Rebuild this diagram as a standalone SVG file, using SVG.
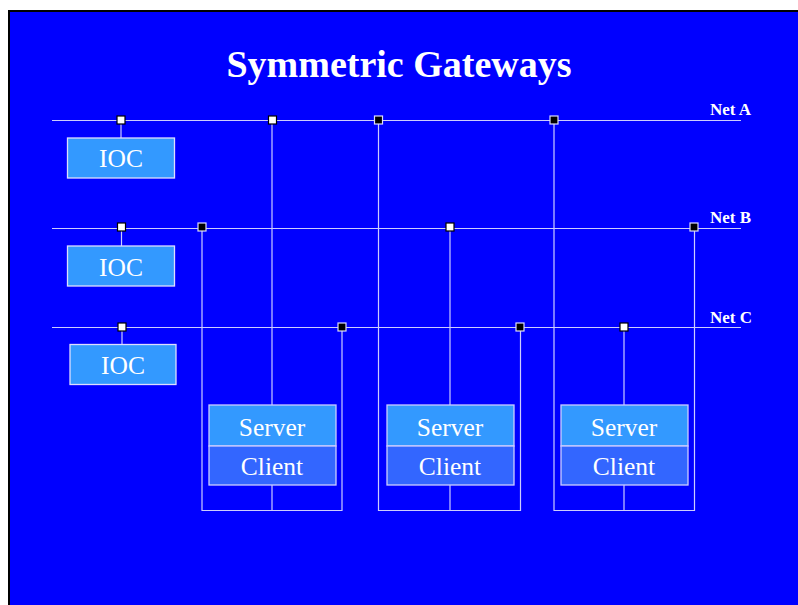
<svg xmlns="http://www.w3.org/2000/svg" width="798" height="605" viewBox="0 0 798 605">
<style>
.bg{fill:#0000FF;stroke:#000;stroke-width:2}
.ln{stroke:#CCCCFF;stroke-width:1.2;fill:none}
.title{font-family:"Liberation Serif","Times New Roman",serif;font-weight:bold;font-size:38px;fill:#fff}
.net{font-family:"Liberation Serif","Times New Roman",serif;font-weight:bold;font-size:17px;fill:#fff}
.lbl{font-family:"Liberation Serif","Times New Roman",serif;font-size:25.5px;fill:#fff;text-anchor:middle}
.ioc{fill:#3399FF;stroke:#DDDDFF;stroke-width:1.3}
.srv{fill:#3399FF;stroke:#CCCCFF;stroke-width:1.3}
.cli{fill:#3366FF;stroke:#CCCCFF;stroke-width:1.3}
.jw{fill:#fff;stroke:#000;stroke-width:1.2}
.jb{fill:#000;stroke:#DDDDFF;stroke-width:1.2}
</style>
<rect class="bg" x="9" y="11" width="800" height="600"/>
<text class="title" x="399" y="77" text-anchor="middle">Symmetric Gateways</text>

<g id="connectors">
  <!-- nets -->
  <line class="ln" x1="52" y1="120.5" x2="741" y2="120.5"/>
  <line class="ln" x1="52" y1="228.5" x2="741" y2="228.5"/>
  <line class="ln" x1="52" y1="327.5" x2="741" y2="327.5"/>
  <!-- IOC drops -->
  <line class="ln" x1="121" y1="120" x2="121" y2="138"/>
  <line class="ln" x1="121.5" y1="228" x2="121.5" y2="246"/>
  <line class="ln" x1="122" y1="327" x2="122" y2="344"/>
  <!-- group 1 -->
  <line class="ln" x1="272" y1="120" x2="272" y2="405"/>
  <polyline class="ln" points="202,228 202,510.5 342,510.5 342,327"/>
  <line class="ln" x1="272" y1="485" x2="272" y2="510"/>
  <!-- group 2 -->
  <line class="ln" x1="450" y1="228" x2="450" y2="405"/>
  <polyline class="ln" points="378.5,120 378.5,510.5 520.5,510.5 520.5,327"/>
  <line class="ln" x1="450" y1="485" x2="450" y2="510"/>
  <!-- group 3 -->
  <line class="ln" x1="624" y1="327" x2="624" y2="405"/>
  <polyline class="ln" points="554,120 554,510.5 694.5,510.5 694.5,228"/>
  <line class="ln" x1="624" y1="485" x2="624" y2="510"/>
</g>

<g id="junctions">
  <rect class="jw" x="117" y="116" width="8" height="8"/>
  <rect class="jw" x="268.5" y="116" width="8" height="8"/>
  <rect class="jb" x="374.5" y="116" width="8" height="8"/>
  <rect class="jb" x="550" y="116" width="8" height="8"/>
  <rect class="jw" x="117.5" y="223" width="8" height="8"/>
  <rect class="jb" x="198" y="223" width="8" height="8"/>
  <rect class="jw" x="446" y="223" width="8" height="8"/>
  <rect class="jb" x="690" y="223" width="8" height="8"/>
  <rect class="jw" x="118" y="323" width="8" height="8"/>
  <rect class="jb" x="338" y="323" width="8" height="8"/>
  <rect class="jb" x="516" y="323" width="8" height="8"/>
  <rect class="jw" x="620" y="323" width="8" height="8"/>
</g>

<g id="netlabels">
  <text class="net" x="710" y="115">Net A</text>
  <text class="net" x="710" y="223">Net B</text>
  <text class="net" x="710" y="323">Net C</text>
</g>

<g id="ioc1">
  <rect class="ioc" x="67.5" y="138" width="107" height="40"/>
  <text class="lbl" x="121" y="167">IOC</text>
</g>
<g id="ioc2">
  <rect class="ioc" x="67.5" y="246" width="107" height="40"/>
  <text class="lbl" x="121" y="276">IOC</text>
</g>
<g id="ioc3">
  <rect class="ioc" x="70" y="344.5" width="106" height="40"/>
  <text class="lbl" x="123" y="374">IOC</text>
</g>

<g id="gw1">
  <rect class="srv" x="209" y="405" width="127" height="41"/>
  <rect class="cli" x="209" y="446" width="127" height="39"/>
  <text class="lbl" x="272" y="436">Server</text>
  <text class="lbl" x="272" y="475">Client</text>
</g>
<g id="gw2">
  <rect class="srv" x="387" y="405" width="127" height="41"/>
  <rect class="cli" x="387" y="446" width="127" height="39"/>
  <text class="lbl" x="450" y="436">Server</text>
  <text class="lbl" x="450" y="475">Client</text>
</g>
<g id="gw3">
  <rect class="srv" x="561" y="405" width="127" height="41"/>
  <rect class="cli" x="561" y="446" width="127" height="39"/>
  <text class="lbl" x="624" y="436">Server</text>
  <text class="lbl" x="624" y="475">Client</text>
</g>
</svg>
